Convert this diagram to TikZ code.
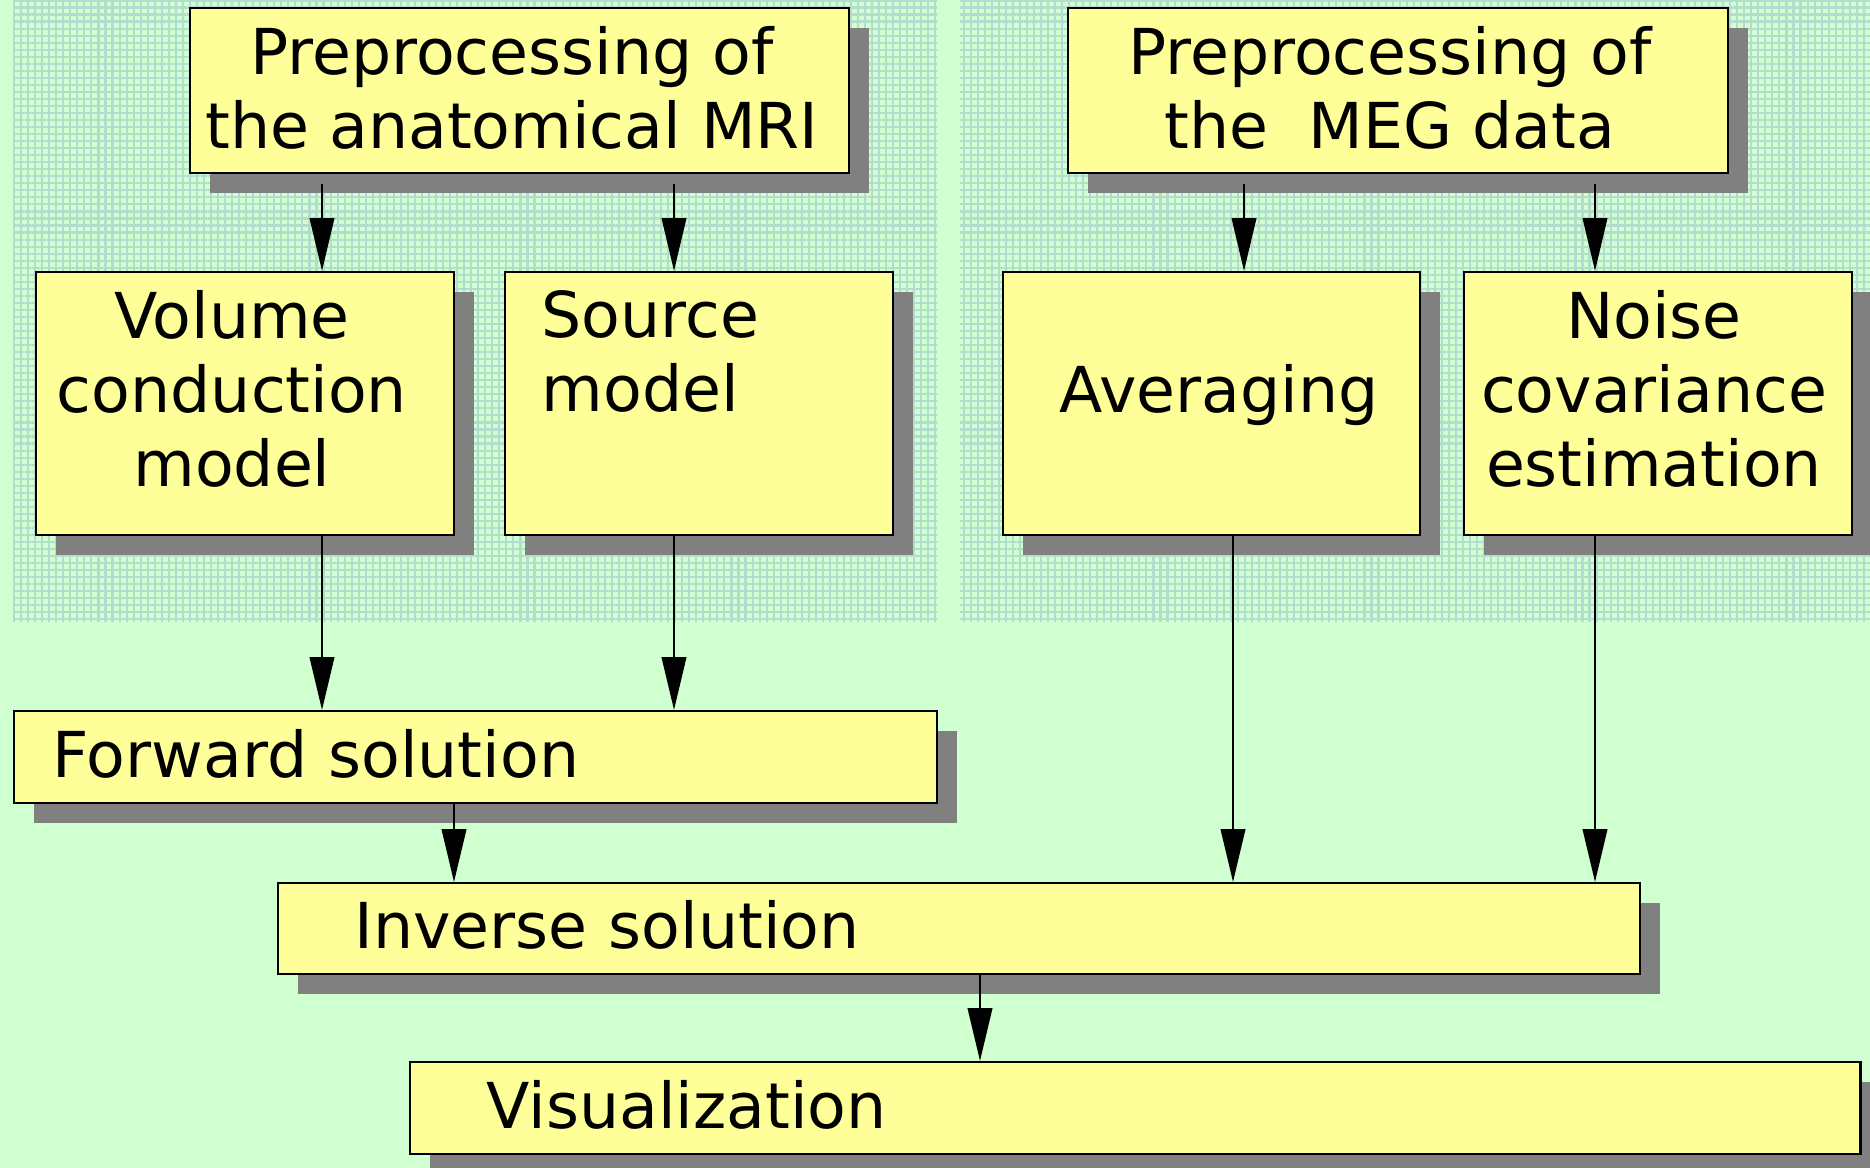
\documentclass[tikz,border=0pt]{standalone}
\usepackage{fontspec}
\setmainfont{DejaVu Sans}
\usetikzlibrary{arrows.meta,calc,shadows,patterns.meta,positioning}
\definecolor{bggreen}{HTML}{D0FFD0}
\definecolor{boxyellow}{HTML}{FFFF99}
\definecolor{shadowgrey}{HTML}{808080}
\definecolor{dotgrey}{HTML}{B4DCCE}

\begin{document}
\begin{tikzpicture}[x=0.01cm,y=-0.01cm,
  every node/.style={font=\fontsize{18pt}{21pt}\selectfont},
  box/.style={draw=black,line width=0.6pt,fill=boxyellow,inner sep=0pt,
    drop shadow={shadow xshift=0.2cm,shadow yshift=-0.2cm,fill=shadowgrey,opacity=1}},
  tallbox/.style={box,minimum height=2.63cm},
  barbox/.style={box,text height=1.24em,text depth=0.1em,align=left},
  txt/.style={inner sep=0pt,anchor=north,align=center},
  arr/.style={line width=0.5pt,-{Triangle[length=15pt,width=7pt]}}]
\useasboundingbox (0,0) rectangle (1870,1168);
\clip (0,0) rectangle (1870,1168);
\fill[bggreen] (0,0) rectangle (1870,1168);
\fill[pattern={Hatch[distance=2pt,line width=0.6pt]},pattern color=dotgrey] (13,0) rectangle (937,622);
\fill[pattern={Hatch[distance=2pt,line width=0.6pt]},pattern color=dotgrey] (960,0) rectangle (1870,622);

\node[box,minimum width=6.59cm,minimum height=1.65cm] (mri) at (519.5,90.5) {};
\node[box,minimum width=6.6cm,minimum height=1.65cm] (meg) at (1398,90.5) {};
\node[txt] (mriT) at (512,26) {Preprocessing of\\the anatomical MRI};
\node[txt] (megT) at (1390,26) {Preprocessing of\\the~~MEG data};

\node[tallbox,minimum width=4.18cm] (vol) at (245,403.5) {};
\node[tallbox,minimum width=3.88cm] (src) at (699,403.5) {};
\node[tallbox,minimum width=4.17cm] (avg) at (1211.5,403.5) {};
\node[tallbox,minimum width=3.88cm] (noise) at (1658,403.5) {};
\node[txt] (volT) at (232,290) {Volume\\conduction\\model};
\node[txt,anchor=north west,align=left] (srcT) at (541,290) {Source\\model};
\node[txt] (avgT) at (1219,364) {Averaging};
\node[txt] (noiseT) at (1654,290) {Noise\\covariance\\estimation};

\node[barbox,minimum width=9.23cm,minimum height=0.92cm,inner xsep=0.39cm,text width=8.45cm] (fwd) at (475.5,757) {Forward solution};
\node[barbox,minimum width=13.62cm,minimum height=0.91cm,inner xsep=0.77cm,text width=12.08cm] (inv) at (959,928.5) {Inverse solution};
\node[barbox,minimum width=14.5cm,minimum height=0.92cm,inner xsep=0.77cm,text width=12.96cm] (vis) at (1135,1108) {Visualization};

\coordinate (x1) at (322,0);
\coordinate (x2) at (674,0);
\coordinate (x3) at (1244,0);
\coordinate (x4) at (1595,0);
\coordinate (x5) at (1233,0);
\coordinate (x6) at (454,0);
\coordinate (x7) at (980,0);

\draw[arr] ($(mri.south -| x1)+(0,10)$) -- (vol.north -| x1);
\draw[arr] ($(mri.south -| x2)+(0,10)$) -- (src.north -| x2);
\draw[arr] ($(meg.south -| x3)+(0,10)$) -- (avg.north -| x3);
\draw[arr] ($(meg.south -| x4)+(0,10)$) -- (noise.north -| x4);
\draw[arr] (vol.south -| x1) -- (fwd.north -| x1);
\draw[arr] (src.south -| x2) -- (fwd.north -| x2);
\draw[arr] (avg.south -| x5) -- (inv.north -| x5);
\draw[arr] (noise.south -| x4) -- (inv.north -| x4);
\draw[arr] (fwd.south -| x6) -- (inv.north -| x6);
\draw[arr] (inv.south -| x7) -- (vis.north -| x7);
\end{tikzpicture}
\end{document}
